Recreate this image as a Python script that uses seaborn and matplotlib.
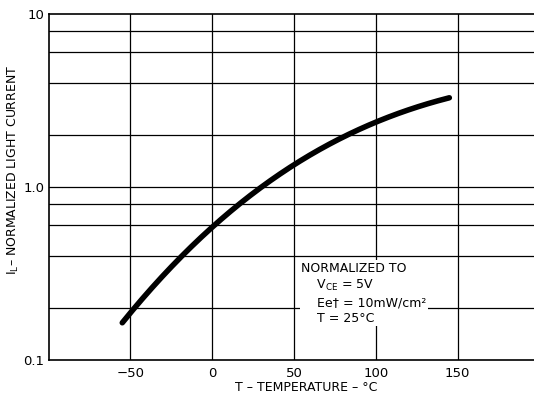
import matplotlib
matplotlib.use("Agg")
import matplotlib.pyplot as plt
import seaborn as sns
import pandas as pd
import numpy as np

# data
temperature = [-55, -50, -25, 0, 25, 50, 75, 100, 125, 145]
light_current = [0.16, 0.19, 0.36, 0.58, 0.87, 1.38, 1.88, 2.36, 2.85, 3.3]
x_ticks = [-50, 0, 50, 100, 150]
x_tick_labels = ["−50", "0", "50", "100", "150"]
y_ticks = [0.1, 1.0, 10]
y_tick_labels = ["0.1", "1.0", "10"]
y_grid = [0.2, 0.4, 0.6, 0.8, 2, 4, 6, 8]

sns.set_style("white")
plt.rcParams['font.family'] = ['DejaVu Sans']
plt.rcParams['text.color'] = 'black'
plt.rcParams['axes.labelcolor'] = 'black'
plt.rcParams['xtick.color'] = 'black'
plt.rcParams['ytick.color'] = 'black'

fig = plt.figure(figsize=(5.34, 3.93), dpi=100)
ax = fig.add_axes([48.7 / 534, 1 - 360 / 393, (536 - 48.7) / 534, (360 - 14) / 393])

df = pd.DataFrame({"T": temperature, "IL": light_current})
# smooth curve through the read points (fit in log space, for drawing only)
xs = np.linspace(min(temperature), max(temperature), 200)
coef = np.polyfit(df["T"], np.log10(df["IL"]), 3)
smooth = pd.DataFrame({"T": xs, "IL": 10 ** np.polyval(coef, xs)})
sns.lineplot(data=smooth, x="T", y="IL", ax=ax, color="black", linewidth=4.0,
             solid_capstyle="round", zorder=5)

ax.set_yscale("log")
ax.set_xlim(-100, 198)
ax.set_ylim(0.1, 10)

for xv in x_ticks:
    ax.axvline(xv, color="black", linewidth=0.9, zorder=1)
for yv in y_grid + [1.0]:
    ax.axhline(yv, color="black", linewidth=0.9, zorder=1)

ax.set_xticks(x_ticks)
ax.set_xticklabels(x_tick_labels, fontsize=9.5)
ax.set_yticks(y_ticks)
ax.set_yticklabels(y_tick_labels, fontsize=9.5)
ax.yaxis.set_minor_locator(matplotlib.ticker.NullLocator())
ax.tick_params(axis="x", length=0, pad=5, colors="black")
ax.tick_params(axis="y", length=0, pad=3, colors="black")

for s in ["left", "bottom", "top"]:
    ax.spines[s].set_visible(True)
    ax.spines[s].set_color("black")
    ax.spines[s].set_linewidth(1.2)
ax.spines["right"].set_visible(False)

ax.set_xlabel("T – TEMPERATURE – °C", fontsize=9, color="black")
ax.set_ylabel("I$_\\mathregular{L}$– NORMALIZED LIGHT CURRENT", fontsize=9, color="black")
ax.xaxis.set_label_coords((306 - 48.7) / (536 - 48.7), -0.06)
ax.yaxis.set_label_coords(-0.056, 0.55)

txt = "NORMALIZED TO\n    V$_\\mathregular{CE}$ = 5V\n    Ee† = 10mW/cm²\n    T = 25°C"
ax.text(54.5, 0.37, txt, fontsize=9, va="top", ha="left", linespacing=1.3,
        color="black",
        bbox=dict(facecolor="white", edgecolor="none", pad=1), zorder=3)

fig.savefig("out.png", dpi=100)
